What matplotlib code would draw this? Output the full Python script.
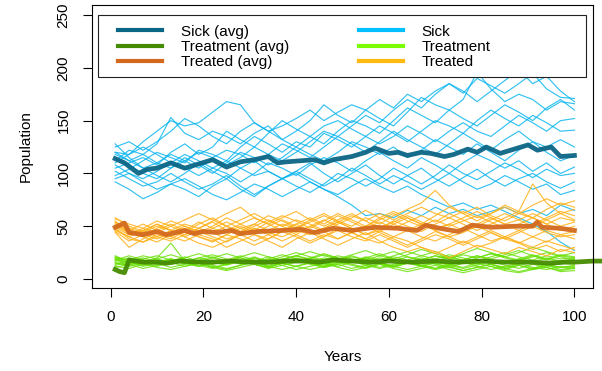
import numpy as np
import matplotlib; matplotlib.use("Agg")
import matplotlib.pyplot as plt
from matplotlib.patches import Rectangle
from matplotlib.lines import Line2D

plt.rcParams["font.family"] = ["Liberation Sans", "DejaVu Sans"]

# individual runs sampled every 3 years
years = list(range(1, 101, 3))

sick_runs = [
    [120,118,130,140,150,145,148,158,168,165,148,140,145,152,160,150,158,165,160,170,162,175,168,178,185,176,190,183,176,185,195,180,172,171],
    [112,122,118,128,153,138,132,140,135,128,138,145,132,140,150,165,155,148,160,152,145,158,172,165,160,170,196,180,168,175,170,160,168,166],
    [105,110,115,108,120,128,118,125,140,132,125,138,150,142,135,128,140,150,145,138,150,162,155,148,160,152,145,155,165,158,150,162,170,160],
    [98,104,112,120,115,110,122,118,112,125,135,128,120,130,125,138,132,125,135,145,138,130,140,150,145,138,150,160,152,145,155,148,140,141],
    [128,115,105,110,118,112,105,115,122,118,110,118,128,122,115,125,135,128,120,130,140,132,125,118,128,138,130,122,132,140,130,125,132,125],
    [115,108,100,95,105,115,108,100,110,120,115,108,115,125,118,112,120,130,125,118,125,115,122,132,125,118,128,120,112,122,130,120,112,117],
    [108,100,95,102,110,105,98,105,100,92,100,110,105,98,108,115,110,102,112,120,112,105,115,108,100,110,118,112,105,112,102,110,100,106],
    [118,112,105,98,92,100,110,102,95,105,112,102,95,102,110,100,92,100,108,98,90,98,105,95,88,96,104,95,88,95,100,92,86,92],
    [102,95,88,92,100,92,85,90,98,88,80,88,95,102,95,88,95,105,98,90,98,92,85,92,100,92,85,90,98,92,85,90,80,84],
    [110,118,125,118,110,118,112,105,112,105,98,102,95,100,92,85,78,70,60,62,58,65,60,68,62,66,60,64,68,62,66,60,70,65],
    [95,100,92,85,90,95,88,80,75,82,90,85,78,85,92,85,80,88,95,88,82,88,80,74,68,72,66,70,64,58,52,45,35,27],
    [125,130,122,130,140,152,145,135,128,140,148,140,132,125,135,145,150,142,135,128,135,145,138,130,140,148,140,135,145,155,148,140,150,152],
    [92,85,76,82,90,85,78,88,95,85,78,88,95,88,82,90,100,95,88,95,105,98,90,98,108,100,94,102,110,104,96,104,98,100],
    [120,112,118,110,105,112,120,115,108,115,125,118,112,120,130,140,135,145,155,148,160,170,162,175,185,178,168,178,188,198,185,192,178,168],
]

treatment_runs = [
    [18,14,16,20,34,17,15,18,14,17,20,16,19,22,18,15,19,16,20,24,19,16,20,17,14,18,22,18,15,19,23,19,16,18],
    [22,16,13,16,19,15,12,15,18,14,17,13,16,19,15,12,15,18,14,11,14,17,13,10,13,16,12,9,12,15,11,9,12,10],
    [12,10,14,11,9,12,15,11,8,11,14,10,13,9,12,15,11,8,11,14,10,7,10,13,9,6,9,12,8,6,9,11,7,8],
    [20,18,22,19,16,20,24,20,17,21,25,21,18,22,26,22,19,23,27,22,19,23,28,24,20,24,29,25,21,25,30,26,22,25],
    [16,12,15,18,14,17,13,10,14,17,21,16,13,16,20,16,12,16,19,15,12,15,18,14,11,15,18,14,11,14,17,13,11,13],
    [19,15,18,14,17,21,17,14,18,22,18,15,19,16,20,24,20,16,20,17,21,18,22,26,21,18,22,19,23,27,22,18,22,20],
    [14,18,15,12,16,19,15,12,9,13,16,12,15,18,14,11,14,17,13,10,13,16,12,9,12,8,11,14,10,7,10,13,9,11],
    [21,17,20,16,19,16,20,23,19,16,20,17,21,25,21,18,22,19,16,20,17,21,18,22,19,23,20,24,21,18,22,19,23,21],
    [15,13,17,14,18,15,12,16,13,17,14,11,15,12,16,13,17,14,11,15,12,16,13,10,14,11,15,12,9,13,10,14,11,12],
    [17,20,16,19,23,19,16,20,24,20,17,21,18,22,19,23,20,17,21,18,22,26,22,19,23,20,17,21,25,21,18,22,19,20],
    [13,16,12,15,11,14,17,13,10,13,16,12,9,12,15,11,14,10,13,16,12,9,12,15,11,8,11,14,10,13,9,12,15,14],
    [18,22,18,15,19,16,20,17,14,18,15,19,16,20,17,14,18,22,18,15,19,16,13,17,21,17,14,18,15,19,16,20,17,19],
    [20,15,19,22,18,14,18,21,17,20,16,19,23,19,16,20,17,21,18,22,26,21,18,22,19,16,20,24,20,17,21,25,21,18],
    [11,14,10,13,16,12,15,11,14,18,14,11,15,12,9,12,16,13,10,14,11,15,12,16,13,10,13,17,13,10,14,11,8,10],
]

treated_runs = [
    [52,45,40,48,55,50,44,50,58,52,46,54,60,55,48,55,62,56,50,58,64,58,52,60,68,62,55,62,70,64,58,66,72,68],
    [48,38,35,42,38,45,40,36,42,48,42,38,45,52,46,40,48,44,38,45,52,46,40,36,42,48,42,36,40,46,40,35,42,38],
    [55,42,48,55,50,44,52,58,50,45,52,60,55,48,56,62,55,50,58,52,60,66,72,84,70,62,68,60,55,62,58,52,58,55],
    [45,36,42,38,44,50,45,40,35,42,48,42,36,42,50,45,38,44,50,44,38,32,38,45,40,34,40,46,40,35,30,36,32,28],
    [58,50,45,52,46,42,48,55,62,68,58,52,58,64,56,50,56,62,55,48,55,50,45,52,58,52,46,52,58,64,90,72,62,66],
    [50,44,40,35,42,48,40,35,42,38,32,38,45,40,34,40,46,40,36,42,36,30,36,42,38,32,38,44,38,34,40,46,42,45],
    [46,40,46,52,46,40,46,44,50,56,62,55,50,56,52,46,52,58,65,58,52,58,52,46,52,58,64,58,52,56,62,56,50,54],
    [53,47,42,46,52,46,54,48,44,50,44,50,56,50,44,48,54,48,42,48,54,60,54,48,52,46,52,58,52,46,52,58,64,60],
    [44,30,38,44,40,36,42,38,30,36,42,36,30,38,44,38,32,38,44,36,30,26,30,24,30,36,30,34,40,34,28,32,26,30],
    [57,52,48,44,50,56,62,56,50,44,50,56,50,44,50,56,50,44,50,56,62,55,50,56,50,55,60,54,48,52,58,52,46,50],
    [49,42,46,40,36,42,48,44,38,42,48,44,40,46,42,48,54,48,42,46,40,46,52,46,40,44,50,44,38,44,50,44,40,42],
    [51,46,52,46,40,46,42,48,54,48,52,46,52,48,54,60,54,60,55,62,56,62,68,62,58,64,58,62,68,62,70,76,70,74],
    [47,40,35,40,46,40,34,30,36,42,36,42,48,42,36,42,38,44,38,34,40,36,30,26,20,26,32,28,24,30,26,22,28,25],
    [54,48,44,50,46,52,48,54,46,52,58,52,46,52,58,52,60,54,48,54,48,54,60,54,62,56,50,56,62,56,50,56,62,56],
]

# averages
sick_avg_years = [1,3,6,8,10,13,16,19,22,25,28,31,34,36,38,41,44,46,48,52,55,57,60,62,64,67,69,72,74,77,79,81,84,87,90,92,95,97,100]
sick_avg = [114,110,100,104,105,110,105,109,113,106,111,113,116,110,111,112,113,110,113,116,120,124,119,120,117,120,119,116,118,123,120,125,119,123,127,122,125,116,117]
treated_avg_years = [1,3,4,7,10,12,16,18,20,23,26,28,32,37,41,44,48,52,57,62,66,68,71,75,78,82,87,91,92,93,97,100]
treated_avg = [49,53,44,42,45,42,46,43,45,44,46,43,45,46,47,44,48,46,49,48,46,51,48,45,51,49,50,50,54,49,48,46]
treatment_avg_years = [1,2,3,4,7,10,12,15,19,22,26,30,34,38,42,45,48,52,56,60,65,70,75,80,85,90,95,98,100,104,108]
treatment_avg = [9,7,6,18,16,16,15,17,16,16,17,16,16,17,17,16,18,17,16,17,16,17,16,17,16,16,15,16,16,17,17]

C_SICK, C_TRT, C_TRD = "#00B2EE", "#66E000", "#FFB21A"
C_SICK_AVG, C_TRT_AVG, C_TRD_AVG = "#0B6585", "#458B00", "#D2691E"

fig = plt.figure(figsize=(6.02, 3.71), dpi=100)
ax = fig.add_axes([92/602, 83/371, 501/602, 283/371])

for r in sick_runs:
    ax.plot(years, r, color=C_SICK, lw=0.85, alpha=0.8)
for r in treatment_runs:
    ax.plot(years, r, color=C_TRT, lw=0.85, alpha=0.8)
for r in treated_runs:
    ax.plot(years, r, color=C_TRD, lw=0.85, alpha=0.85)

ax.plot(sick_avg_years, sick_avg, color=C_SICK_AVG, lw=3.4, alpha=0.95)
ax.plot(treatment_avg_years, treatment_avg, color=C_TRT_AVG, lw=3.4, alpha=0.95, clip_on=False)
ax.plot(treated_avg_years, treated_avg, color=C_TRD_AVG, lw=3.4, alpha=0.95)

ax.set_xlim(-4, 104)
ax.set_ylim(-8.5, 259.5)
ax.set_xticks([0, 20, 40, 60, 80, 100])
ax.set_yticks([0, 50, 100, 150, 200, 250])
ax.tick_params(direction="out", length=6.5, width=0.8, labelsize=11, pad=9)
for lbl in ax.get_yticklabels():
    lbl.set_rotation(90); lbl.set_va("center")
for s in ax.spines.values():
    s.set_linewidth(0.8)
ax.set_xlabel("Years", fontsize=11, labelpad=19)
ax.set_ylabel("Population", fontsize=11, labelpad=17)

# legend frame spans nearly the full width, as in the original
ax.add_patch(Rectangle((0.012, 0.746), 0.974, 0.219, transform=ax.transAxes,
                       facecolor="white", edgecolor="#222222", lw=0.8, zorder=5))
handles = [Line2D([], [], color=C_SICK_AVG, lw=3), Line2D([], [], color=C_TRT_AVG, lw=3),
           Line2D([], [], color=C_TRD_AVG, lw=3), Line2D([], [], color="#00BFFF", lw=3),
           Line2D([], [], color="#7CFC00", lw=3), Line2D([], [], color="#FFB90F", lw=3)]
labels = ["Sick (avg)", "Treatment (avg)", "Treated (avg)", "Sick", "Treatment", "Treated"]
leg = ax.legend(handles, labels, ncol=2, loc="upper left", bbox_to_anchor=(0.052, 0.93),
                frameon=False, fontsize=11, handlelength=2.9, handletextpad=1.2,
                columnspacing=4.56, labelspacing=0.08, borderpad=0, borderaxespad=0)
leg.set_zorder(6)

fig.savefig("out.png", dpi=100)
